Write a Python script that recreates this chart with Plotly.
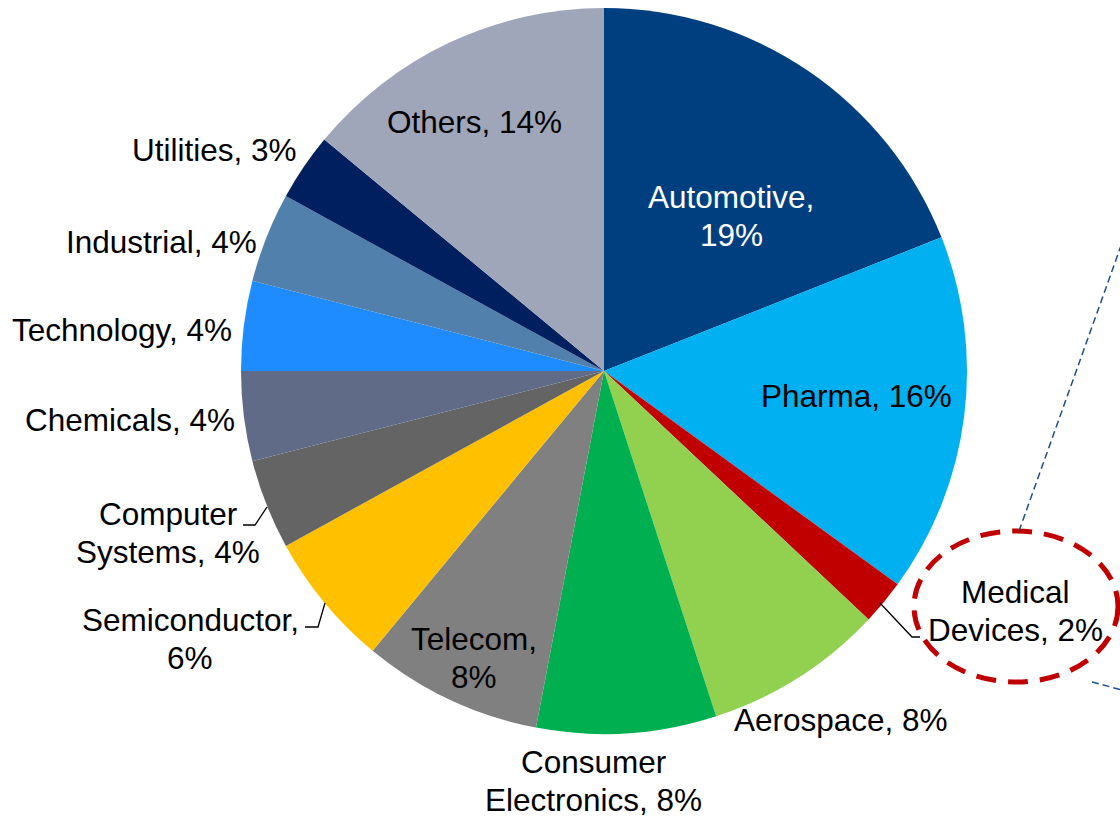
import plotly.graph_objects as go

# Revenue share by end market (%)
sectors = ["Automotive", "Pharma", "Medical Devices", "Aerospace",
           "Consumer Electronics", "Telecom", "Semiconductor",
           "Computer Systems", "Chemicals", "Technology", "Industrial",
           "Utilities", "Others"]
shares = [19, 16, 2, 8, 8, 8, 6, 4, 4, 4, 4, 3, 14]
colors = ["#003F7F", "#00B0F0", "#C00000", "#92D050", "#00B050", "#808080",
          "#FFC000", "#646464", "#5F6B87", "#1E8CFF", "#5280AD", "#001F5F",
          "#A0A6BA"]

# sectors whose label breaks after the comma
break_after_comma = {"Automotive", "Telecom", "Semiconductor"}

W, H = 1120, 817
CX, CY, R = 604, 371, 363  # pie centre and radius in pixels
FONT_SIZE = 31.5
LINE_GAP = 37.5

# label centres (pixels) and text colours
label_pos = {
    "Automotive": (731, 216), "Pharma": (857, 396),
    "Medical Devices": (1015, 611), "Aerospace": (841, 720),
    "Consumer Electronics": (593, 781), "Telecom": (474, 658),
    "Semiconductor": (190, 639), "Computer Systems": (168, 533),
    "Chemicals": (130, 420), "Technology": (122, 330),
    "Industrial": (161, 242), "Utilities": (214, 150),
    "Others": (474, 122),
}
label_color = {"Automotive": "white"}


def px(x):
    return x / W


def py(y):
    return 1 - y / H


def label_lines(name, v):
    if name in break_after_comma:
        return [f"{name},", f"{v}%"]
    if " " in name:
        first, rest = name.split(" ", 1)
        return [first, f"{rest}, {v}%"]
    return [f"{name}, {v}%"]


fig = go.Figure(go.Pie(
    labels=sectors, values=shares, sort=False, direction="clockwise",
    rotation=0, marker=dict(colors=colors, line=dict(width=0)),
    textinfo="none", hoverinfo="label+percent", showlegend=False,
    domain=dict(x=[px(CX - R), px(CX + R)], y=[py(CY + R), py(CY - R)]),
))

font = "Liberation Sans, Arial, sans-serif"
annotations = []
for name, v in zip(sectors, shares):
    x, y = label_pos[name]
    lines = label_lines(name, v)
    top = y - LINE_GAP * (len(lines) - 1) / 2
    for i, line in enumerate(lines):
        annotations.append(dict(
            x=px(x), y=py(top + i * LINE_GAP), xref="paper", yref="paper",
            showarrow=False, text=line, xanchor="center", yanchor="middle",
            font=dict(family=font, size=FONT_SIZE,
                      color=label_color.get(name, "black")),
        ))

shapes = []
# leader lines for small slices
leaders = [
    [(880, 603), (912, 637), (920, 637)],
    [(267, 507), (255, 525), (243, 525)],
    [(325, 603), (318, 627), (305, 627)],
]
for pts in leaders:
    path = "M " + " L ".join(f"{px(x)},{py(y)}" for x, y in pts)
    shapes.append(dict(type="path", path=path, xref="paper", yref="paper",
                       line=dict(color="black", width=1.3)))

# highlight ring around Medical Devices
shapes.append(dict(type="circle", xref="paper", yref="paper",
                   x0=px(914), x1=px(1118), y0=py(531), y1=py(682),
                   line=dict(color="#C00000", width=5, dash="20px,12px")))

# callout lines towards the right
for (x0, y0), (x1, y1) in [((1019, 531), (1122, 243)),
                           ((1092, 682), (1122, 690))]:
    shapes.append(dict(type="line", xref="paper", yref="paper",
                       x0=px(x0), y0=py(y0), x1=px(x1), y1=py(y1),
                       line=dict(color="#1F4E8C", width=1.5, dash="7px,4px")))

fig.update_layout(
    width=W, height=H, margin=dict(l=0, r=0, t=0, b=0),
    paper_bgcolor="white", plot_bgcolor="white",
    annotations=annotations, shapes=shapes,
)

fig.write_html("out.html")
